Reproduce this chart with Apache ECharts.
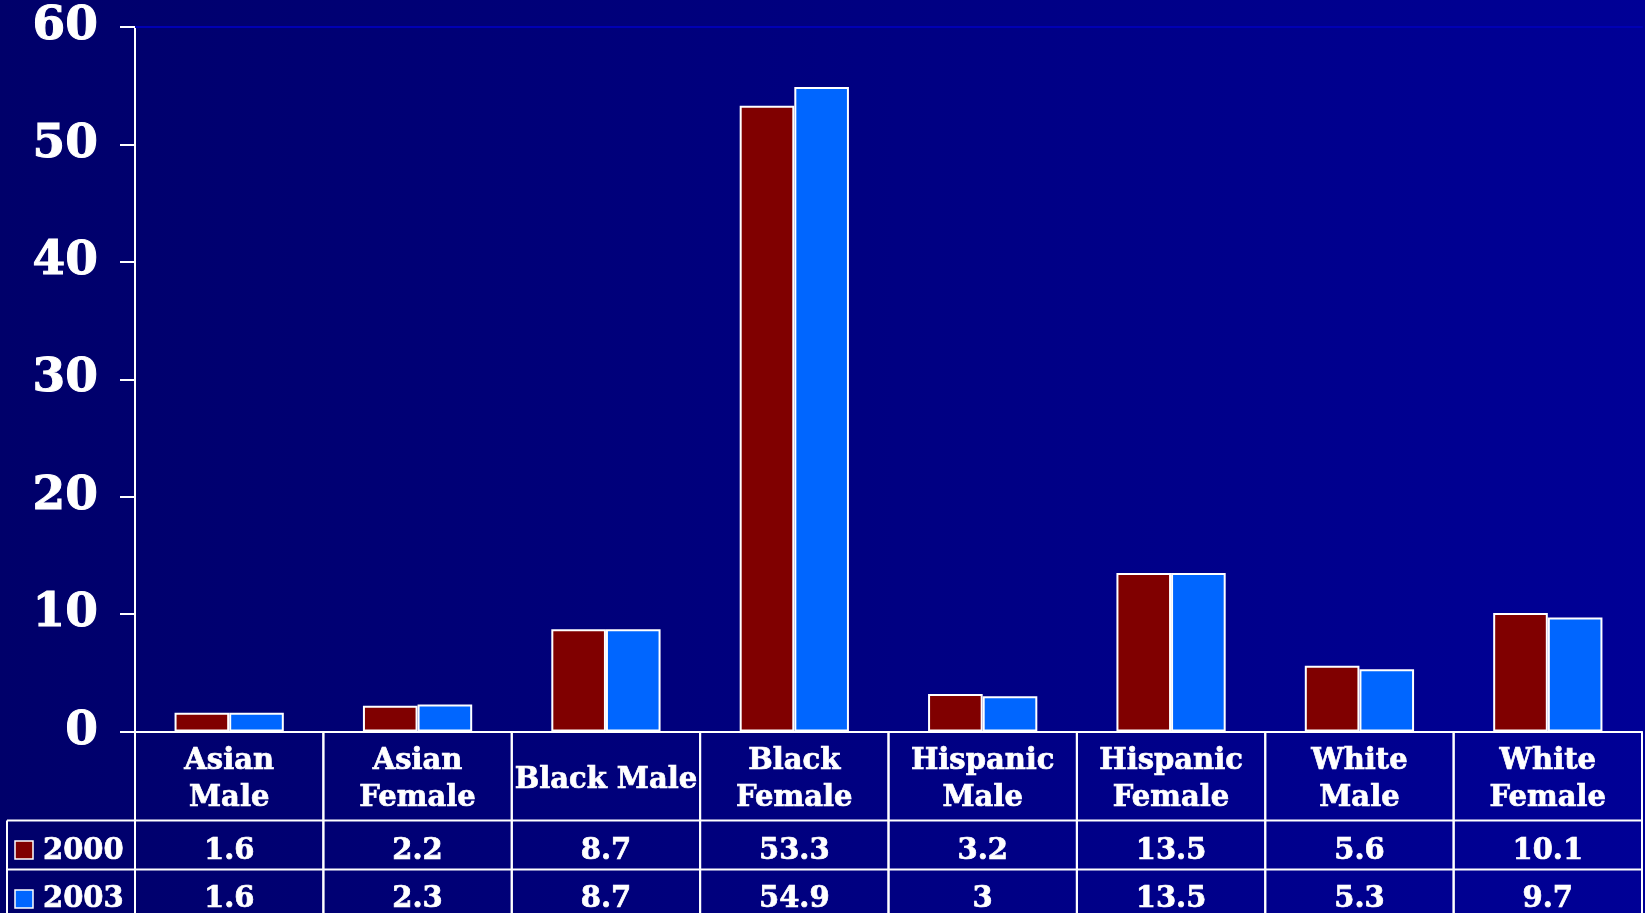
<!DOCTYPE html>
<html>
<head>
<meta charset="utf-8">
<script src="https://cdn.jsdelivr.net/npm/echarts@6/dist/echarts.min.js"></script>
<style>
  html, body { margin: 0; padding: 0; width: 1645px; height: 913px; overflow: hidden;
    background: linear-gradient(to right, #00006a, #000096); }
  #chart { width: 1645px; height: 913px; }
</style>
</head>
<body>
<div id="chart"></div>
<script>
const categories = ['Asian\nMale', 'Asian\nFemale', 'Black Male', 'Black\nFemale',
  'Hispanic\nMale', 'Hispanic\nFemale', 'White\nMale', 'White\nFemale'];
const seriesNames = ['2000', '2003'];
const values2000 = [1.6, 2.2, 8.7, 53.3, 3.2, 13.5, 5.6, 10.1];
const values2003 = [1.6, 2.3, 8.7, 54.9, 3, 13.5, 5.3, 9.7];
const yTicks = { min: 0, max: 60, interval: 10 };

const colors = ['#800000', '#0066ff'];
const FONT = '"DejaVu Serif", serif';
const HEADER_H = 89, ROW_H = 49;

const chart = echarts.init(document.getElementById('chart'));

const tableData = categories.map((c, i) => [i, values2000[i], values2003[i]]);

function txt(text, x, y, align, extra) {
  return { type: 'text', style: Object.assign({
    text: text, x: x, y: y, align: align, verticalAlign: 'middle',
    fill: '#ffffff', stroke: '#ffffff', lineWidth: 0.7, font: 'bold 29px ' + FONT }, extra || {}) };
}

function renderTable(params, api) {
  const i = api.value(0);
  const base = api.coord([i, 0]);
  const cx = base[0], y0 = base[1];
  const w = api.size([1, 0])[0];
  const xl = cx - w / 2, xr = cx + w / 2;
  const line = { stroke: '#ffffff', lineWidth: 2 };
  const children = [];
  const yH = y0 + HEADER_H, y1 = yH + ROW_H, y2 = y1 + ROW_H;
  children.push({ type: 'line', shape: { x1: xr, y1: y0, x2: xr, y2: y2 + 10 }, style: line });
  children.push({ type: 'line', shape: { x1: xl, y1: y0, x2: xl, y2: y2 + 10 }, style: line });
  children.push({ type: 'line', shape: { x1: xl, y1: yH, x2: xr, y2: yH }, style: line });
  children.push({ type: 'line', shape: { x1: xl, y1: y1, x2: xr, y2: y1 }, style: line });
  children.push(txt(categories[i], cx, y0 + HEADER_H / 2 + 4, 'center', { lineHeight: 37 }));
  children.push(txt(String(api.value(1)), cx, yH + ROW_H / 2 + 6, 'center'));
  children.push(txt(String(api.value(2)), cx, y1 + ROW_H / 2 + 5, 'center'));
  if (i === 0) {
    const lx = 7;
    children.push({ type: 'line', shape: { x1: lx, y1: yH, x2: xl, y2: yH }, style: line });
    children.push({ type: 'line', shape: { x1: lx, y1: y1, x2: xl, y2: y1 }, style: line });
    children.push({ type: 'line', shape: { x1: lx, y1: yH, x2: lx, y2: y2 + 10 }, style: line });
    [yH, y1].forEach((ry, k) => {
      children.push({ type: 'rect', shape: { x: 15, y: ry + ROW_H / 2 - 4, width: 18, height: 18 },
        style: { fill: colors[k], stroke: '#ffffff', lineWidth: 1.5 } });
      children.push(txt(seriesNames[k], 43, ry + ROW_H / 2 + 6 - k, 'left'));
    });
  }
  return { type: 'group', children: children };
}

const option = {
  backgroundColor: 'transparent',
  animation: false,
  grid: { left: 135, right: 3, top: 27, bottom: 181.5, containLabel: false },
  xAxis: [
    { type: 'category', data: categories, position: 'bottom',
      axisLine: { show: true, lineStyle: { color: '#ffffff', width: 2 } },
      axisTick: { show: false }, axisLabel: { show: false }, splitLine: { show: false } },
    { type: 'category', data: categories, position: 'top',
      axisLine: { show: true, lineStyle: { color: '#0000b4', width: 2 } },
      axisTick: { show: false }, axisLabel: { show: false }, splitLine: { show: false } }
  ],
  yAxis: {
    type: 'value', min: yTicks.min, max: yTicks.max, interval: yTicks.interval,
    axisLine: { show: true, lineStyle: { color: '#ffffff', width: 2 } },
    axisTick: { show: true, inside: false, length: 15, lineStyle: { color: '#ffffff', width: 2 } },
    axisLabel: { color: '#ffffff', fontFamily: FONT, fontWeight: 'bold', fontSize: 47, margin: 37,
      textBorderColor: '#ffffff', textBorderWidth: 1 },
    splitLine: { show: false }
  },
  legend: { show: false },
  series: [
    { name: seriesNames[0], type: 'bar', data: values2000, barGap: '0%', barCategoryGap: '42%',
      itemStyle: { color: colors[0], borderColor: '#ffffff', borderWidth: 2 } },
    { name: seriesNames[1], type: 'bar', data: values2003, barGap: '0%', barCategoryGap: '42%',
      itemStyle: { color: colors[1], borderColor: '#ffffff', borderWidth: 2 } },
    { type: 'custom', data: tableData, renderItem: renderTable, clip: false, z: 5,
      encode: { x: 0, y: 1 }, silent: true }
  ]
};
chart.setOption(option);
</script>
</body>
</html>
